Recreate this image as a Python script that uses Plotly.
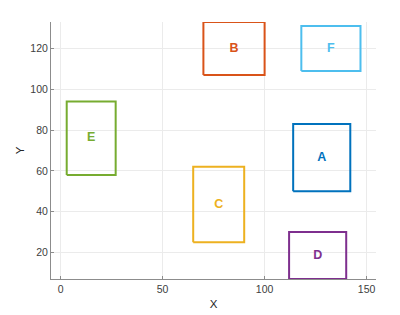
import plotly.graph_objects as go

labels = ["A", "B", "C", "D", "E", "F"]
x_min = [114, 70, 65, 112, 3, 118]
x_max = [142, 100, 90, 140, 27, 147]
y_min = [50, 107, 25, 7, 58, 109]
y_max = [83, 133, 62, 30, 94, 131]
colors = ["#0072BD", "#D95319", "#EDB120", "#7E2F8E", "#77AC30", "#4DBEEE"]

x_ticks = [0, 50, 100, 150]
y_ticks = [20, 40, 60, 80, 100, 120]

fig = go.Figure()
for lab, x0, x1, y0, y1, c in zip(labels, x_min, x_max, y_min, y_max, colors):
    fig.add_trace(go.Scatter(
        x=[x0, x1, x1, x0, x0], y=[y0, y0, y1, y1, y0],
        mode="lines", line=dict(color=c, width=2), showlegend=False,
        hoverinfo="skip"))
    fig.add_trace(go.Scatter(
        x=[(x0 + x1) / 2], y=[(y0 + y1) / 2], mode="text", text=[f"<b>{lab}</b>"],
        textfont=dict(color=c, size=12.5, family="Liberation Sans, Arial"),
        showlegend=False, hoverinfo="skip"))

axis_common = dict(
    showgrid=True, gridcolor="#ebebeb", gridwidth=1,
    zeroline=False, showline=True, linecolor="#8c8c8c", linewidth=1,
    ticks="inside", ticklen=3, tickcolor="#8c8c8c",
    tickfont=dict(size=10.5, color="#404040", family="Liberation Sans, Arial"),
    mirror=False, automargin=False,
)
fig.update_layout(
    width=400, height=315,
    margin=dict(l=43, r=32, t=14, b=44),
    paper_bgcolor="white", plot_bgcolor="white",
    xaxis=dict(range=[-4.7, 154.6], tickvals=x_ticks,
               title=dict(text="X", font=dict(size=11.5, color="#262626", family="Liberation Sans, Arial"), standoff=6),
               **axis_common),
    yaxis=dict(range=[7, 133], tickvals=y_ticks,
               title=dict(text="Y", font=dict(size=11.5, color="#262626", family="Liberation Sans, Arial"), standoff=3),
               **axis_common),
)
fig.write_html("out.html")
